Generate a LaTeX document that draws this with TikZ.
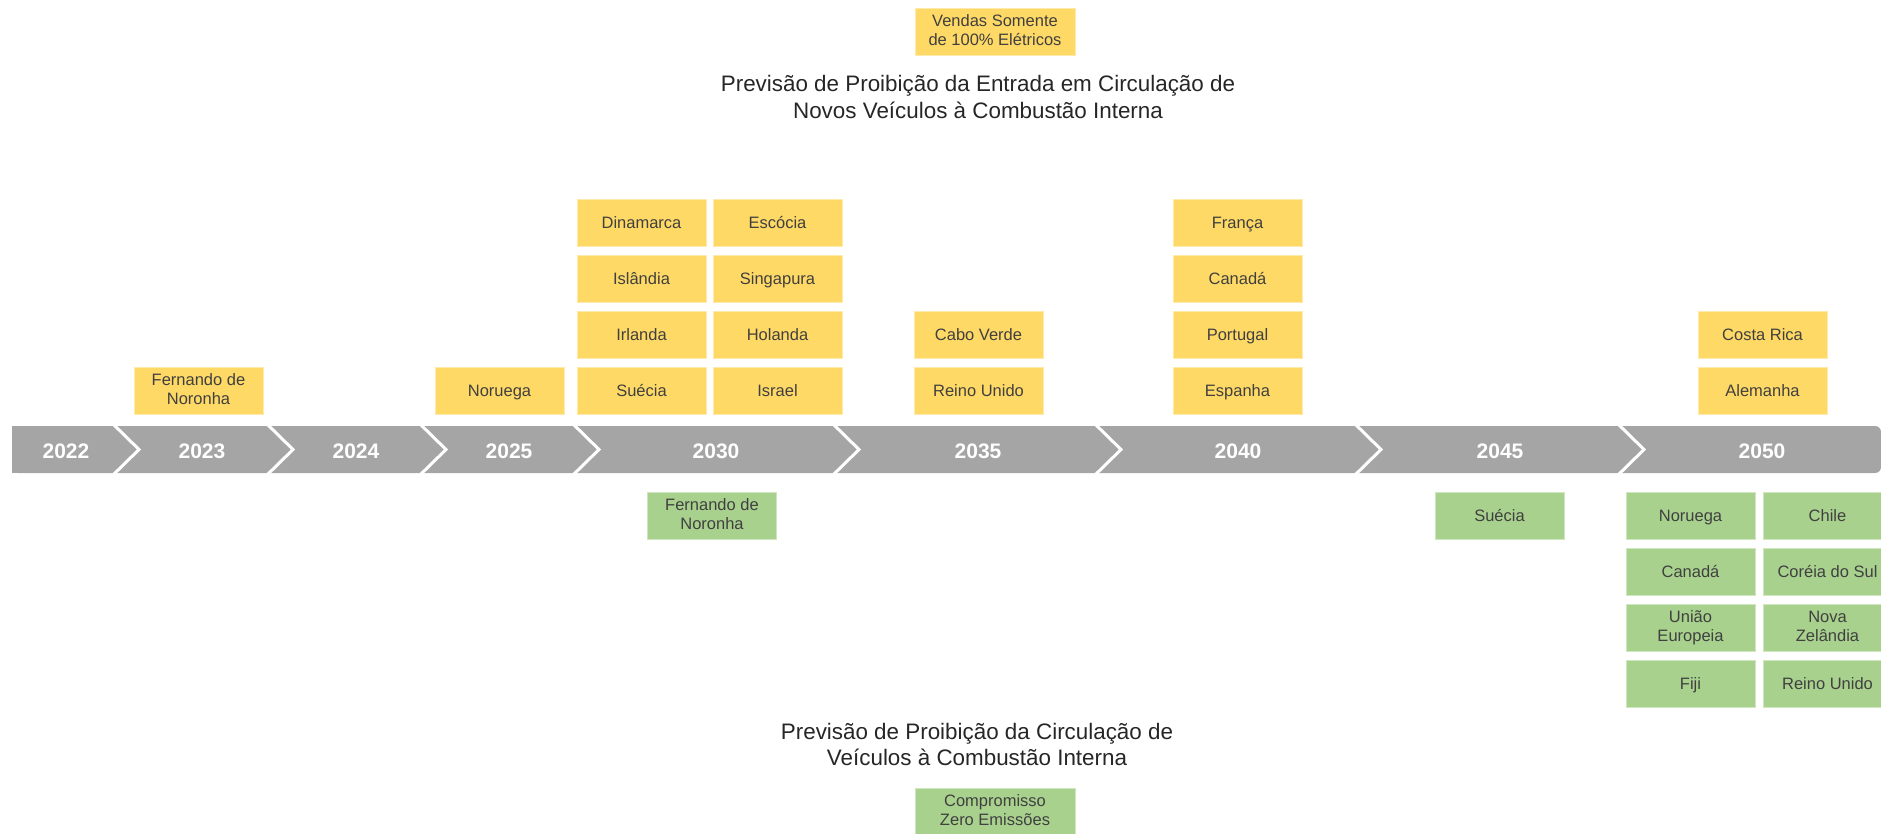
\documentclass[tikz,border=0pt]{standalone}
\usepackage{fontspec}
\setmainfont{Liberation Sans}
\definecolor{ybox}{HTML}{FFD966}
\definecolor{gbox}{HTML}{A9D18E}
\definecolor{barg}{HTML}{A5A5A5}
\definecolor{boxtext}{HTML}{404040}
\definecolor{titletext}{HTML}{262626}
\newcommand\boxstrut{\rule[-3.2pt]{0pt}{18.2pt}}
\begin{document}
\begin{tikzpicture}[x=1pt, y=-1pt,
    yl/.style={fill=ybox, draw=ybox!55!white, line width=0.8pt, minimum width=129pt, minimum height=47pt,
      inner sep=0, align=center, text=boxtext, font=\fontsize{16.5}{19}\selectfont,
      execute at begin node=\boxstrut, execute at end node=\boxstrut},
    gr/.style={yl, fill=gbox, draw=gbox!55!white},
    yr/.style={text=white, font=\bfseries\fontsize{21}{25}\selectfont},
    ttl/.style={align=center, text=titletext, font=\fontsize{22.4}{26.5}\selectfont},
    sep/.style={white, line width=3pt}]
    \clip (0, 0) rectangle (1881, 833);

    \fill[barg, rounded corners=6pt] (12, 426) rectangle (1881, 473);
    \fill[barg] (12, 426) rectangle (1860, 473);
    \foreach \s in {112, 266, 419, 572, 832, 1094, 1354, 1617}
      \draw[sep] (\s, 423) -- (\s+27, 449.5) -- (\s, 476);

    \node[yr](y22) at (66, 451) {2022};
    \node[yr](y23) at (202, 451) {2023};
    \node[yr](y24) at (356, 451) {2024};
    \node[yr](y25) at (509, 451) {2025};
    \node[yr](y30) at (716, 451) {2030};
    \node[yr](y35) at (978, 451) {2035};
    \node[yr](y40) at (1238, 451) {2040};
    \node[yr](y45) at (1500, 451) {2045};
    \node[yr](y50) at (1762, 451) {2050};

    \node[yl, minimum width=160pt](vd) at (995, 31.5) {Vendas Somente\\de 100\% Elétricos};
    \node[ttl](t1) at (978, 97) {Previsão de Proibição da Entrada em Circulação de\\Novos Veículos à Combustão Interna};

    \node[yl](fn23) at (198.5, 390.5) {Fernando de\\Noronha};
    \node[yl](no25) at (499.5, 390.5) {Noruega};

    \node[yl](dk30) at (641.5, 222.5) {Dinamarca};
    \node[yl](is30) at (641.5, 278.5) {Islândia};
    \node[yl](ie30) at (641.5, 334.5) {Irlanda};
    \node[yl](se30) at (641.5, 390.5) {Suécia};
    \node[yl](sc30) at (777.5, 222.5) {Escócia};
    \node[yl](sg30) at (777.5, 278.5) {Singapura};
    \node[yl](nl30) at (777.5, 334.5) {Holanda};
    \node[yl](il30) at (777.5, 390.5) {Israel};

    \node[yl](cv35) at (978.5, 334.5) {Cabo Verde};
    \node[yl](uk35) at (978.5, 390.5) {Reino Unido};

    \node[yl](fr40) at (1237.5, 222.5) {França};
    \node[yl](ca40) at (1237.5, 278.5) {Canadá};
    \node[yl](pt40) at (1237.5, 334.5) {Portugal};
    \node[yl](es40) at (1237.5, 390.5) {Espanha};

    \node[yl](cr50) at (1762.5, 334.5) {Costa Rica};
    \node[yl](de50) at (1762.5, 390.5) {Alemanha};

    \node[gr](fn30) at (712, 515.5) {Fernando de\\Noronha};
    \node[gr](se45) at (1499.5, 515.5) {Suécia};

    \node[gr](no50) at (1690.5, 515.5) {Noruega};
    \node[gr](ca50) at (1690.5, 571.5) {Canadá};
    \node[gr](eu50) at (1690.5, 627.5) {União\\Europeia};
    \node[gr](fj50) at (1690.5, 683.5) {Fiji};
    \node[gr](cl50) at (1827.5, 515.5) {Chile};
    \node[gr](kr50) at (1827.5, 571.5) {Coréia do Sul};
    \node[gr](nz50) at (1827.5, 627.5) {Nova\\Zelândia};
    \node[gr](uk50) at (1827.5, 683.5) {Reino Unido};

    \node[ttl](t2) at (977, 744.5) {Previsão de Proibição da Circulação de\\Veículos à Combustão Interna};
    \node[gr, minimum width=160pt](cz) at (995, 811.5) {Compromisso\\Zero Emissões};
  \end{tikzpicture}
\end{document}
